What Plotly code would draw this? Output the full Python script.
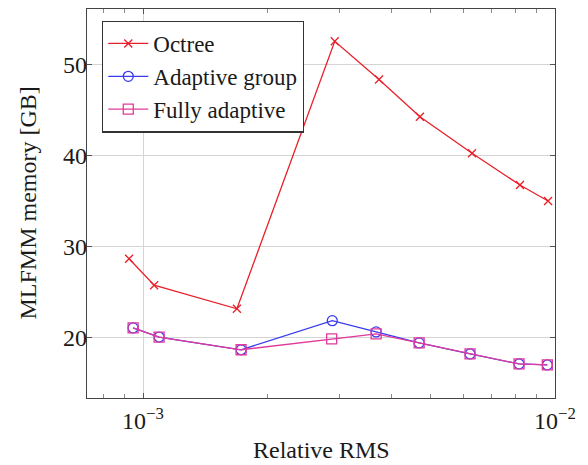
import math
import plotly.graph_objects as go

# Data
octree_x = [9.25e-4, 1.064e-3, 1.69e-3, 2.92e-3, 3.74e-3, 4.70e-3, 6.29e-3, 8.22e-3, 9.62e-3]
octree_y = [28.7, 25.8, 23.2, 52.6, 48.4, 44.3, 40.3, 36.8, 35.05]

adaptive_x = [9.46e-4, 1.094e-3, 1.73e-3, 2.88e-3, 3.68e-3, 4.68e-3, 6.22e-3, 8.18e-3, 9.58e-3]
adaptive_y = [21.1, 20.1, 18.7, 21.9, 20.66, 19.45, 18.24, 17.14, 17.03]

fully_x = [9.46e-4, 1.094e-3, 1.73e-3, 2.87e-3, 3.68e-3, 4.68e-3, 6.22e-3, 8.18e-3, 9.58e-3]
fully_y = [21.1, 20.1, 18.7, 19.9, 20.44, 19.45, 18.24, 17.14, 17.03]

x_tickvals = [1e-3, 1e-2]
x_ticktext = ["10<sup>−3</sup>", "10<sup>−2</sup>"]
y_tickvals = [20, 30, 40, 50]
y_ticktext = ["20", "30", "40", "50"]
x_title = "Relative RMS"
y_title = "MLFMM memory [GB]"

RED = "#e8202a"
BLUE = "#3a3aee"
MAGENTA = "#e03a9c"
FONT = "Liberation Serif"
TXT = "#1a1a1a"
FS = 24

fig = go.Figure()
fig.add_trace(go.Scatter(
    x=octree_x, y=octree_y, name="Octree", mode="lines+markers",
    line=dict(color=RED, width=1.3),
    marker=dict(symbol="x-thin", size=8, line=dict(color=RED, width=1.3), color=RED),
))
fig.add_trace(go.Scatter(
    x=adaptive_x, y=adaptive_y, name="Adaptive group", mode="lines+markers",
    line=dict(color=BLUE, width=1.3),
    marker=dict(symbol="circle-open", size=10, line=dict(color=BLUE, width=1.3), color=BLUE),
))
fig.add_trace(go.Scatter(
    x=fully_x, y=fully_y, name="Fully adaptive", mode="lines+markers",
    line=dict(color=MAGENTA, width=1.3),
    marker=dict(symbol="square-open", size=10, line=dict(color=MAGENTA, width=1.3), color=MAGENTA),
))

axis_common = dict(
    showline=True, linecolor="#444444", linewidth=1.3, mirror="allticks",
    ticks="inside", tickcolor="#555555", ticklen=5,
    showgrid=True, gridcolor="#d4d4d4", gridwidth=1,
    zeroline=False, showticklabels=False,
)

fig.update_xaxes(
    type="log", range=[-3.136, -2.0],
    tickvals=x_tickvals,
    minor=dict(ticks="inside", ticklen=4, tickcolor="#888888",
               tickvals=[8e-4, 9e-4, 2e-3, 3e-3, 4e-3, 5e-3, 6e-3, 7e-3, 8e-3, 9e-3],
               showgrid=False),
    **axis_common,
)
fig.update_yaxes(range=[13.4, 56.15], tickvals=y_tickvals, **axis_common)

# tick labels and axis titles placed as annotations for precise positioning
for v, t in zip(y_tickvals, y_ticktext):
    fig.add_annotation(x=0, xref="paper", y=v, yref="y", text=t, showarrow=False,
                       xanchor="right", yanchor="middle", xshift=2,
                       font=dict(family=FONT, size=FS, color=TXT))
for v, t in zip(x_tickvals, x_ticktext):
    # annotation x on a log axis is given in log10 units
    fig.add_annotation(x=math.log10(v), xref="x", y=0, yref="paper", text=t, showarrow=False,
                       xanchor="center", yanchor="top", yshift=-4,
                       font=dict(family=FONT, size=FS, color=TXT))
fig.add_annotation(x=0.5, xref="paper", y=0, yref="paper", text=x_title, showarrow=False,
                   xanchor="center", yanchor="middle", yshift=-52,
                   font=dict(family=FONT, size=FS, color=TXT))
fig.add_annotation(x=0, xref="paper", y=0.5, yref="paper", text=y_title, showarrow=False,
                   textangle=-90, xanchor="center", yanchor="middle", xshift=-60,
                   font=dict(family=FONT, size=FS, color=TXT))

fig.update_layout(
    width=588, height=465,
    margin=dict(l=87, r=33, t=9, b=67),
    paper_bgcolor="white", plot_bgcolor="white",
    font=dict(family=FONT, size=FS, color=TXT),
    showlegend=True,
    legend=dict(
        x=0.032, y=0.97, xanchor="left", yanchor="top",
        bgcolor="white", bordercolor="#333333", borderwidth=1.3,
        font=dict(family=FONT, size=23, color=TXT),
        itemwidth=40, tracegroupgap=0,
        entrywidth=170, entrywidthmode="pixels",
    ),
)

fig.write_html("out.html", config={"displayModeBar": False},
               post_script="document.body.style.margin='0';")
